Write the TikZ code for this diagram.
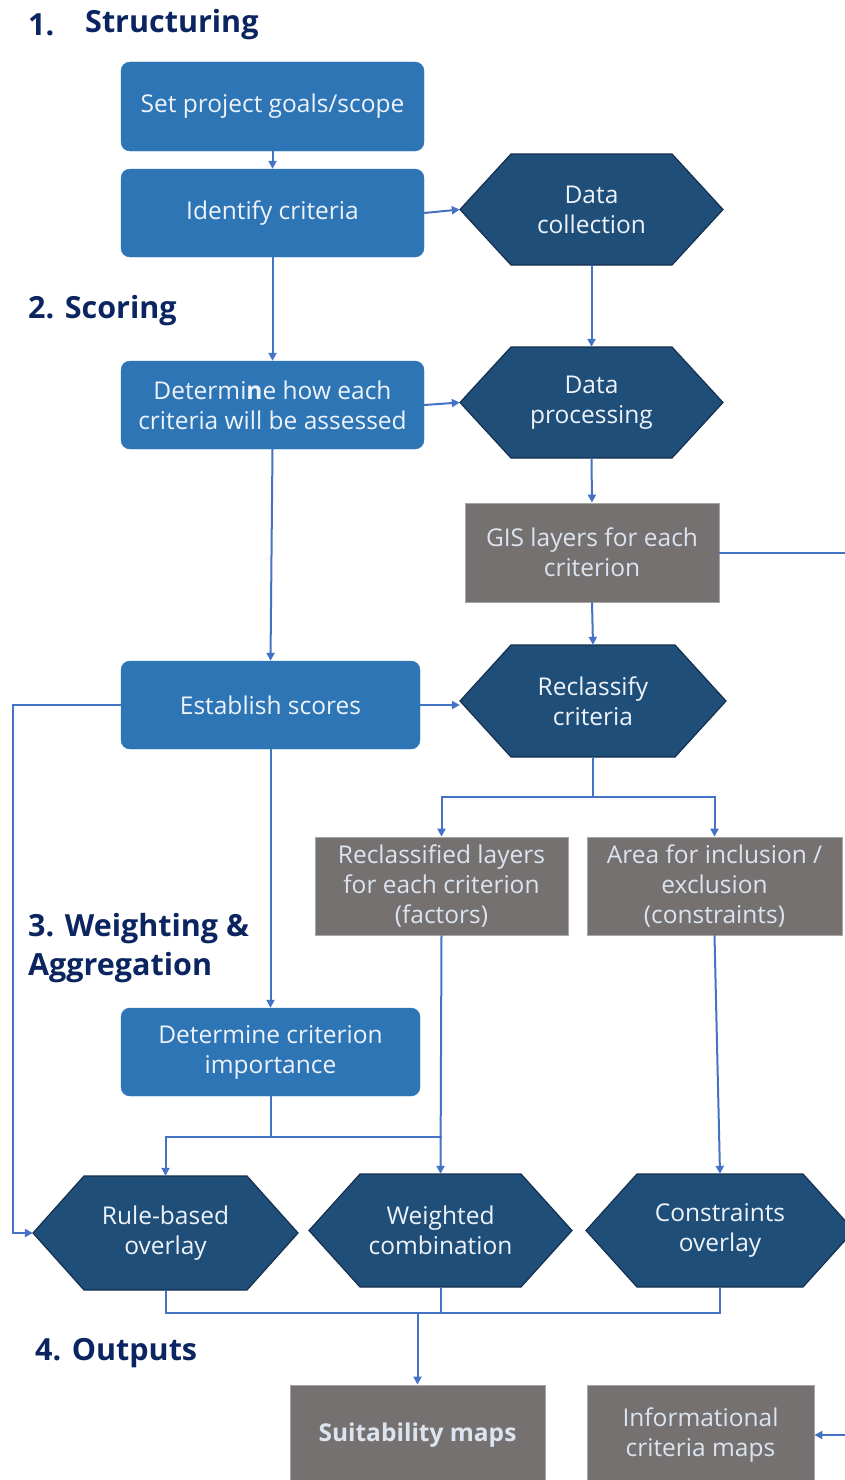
\documentclass[tikz,border=0pt]{standalone}
\usepackage{fontspec}
\setmainfont{Open Sans}
\usetikzlibrary{arrows.meta}

\definecolor{boxblue}{HTML}{2E75B6}
\definecolor{hexfill}{HTML}{1F4E79}
\definecolor{hexedge}{HTML}{15304F}
\definecolor{boxgray}{HTML}{767171}
\definecolor{grayedge}{HTML}{A6A6A6}
\definecolor{lineblue}{HTML}{4472C4}
\definecolor{titlenavy}{HTML}{0B2561}
\definecolor{lighttext}{HTML}{EEF3FA}
\definecolor{graytext}{HTML}{DCE4F0}

\tikzset{
  boxfont/.style={font=\fontsize{24.5}{30}\selectfont},
  bluebox/.style={boxfont, rectangle, rounded corners=9pt, fill=boxblue,
    draw=boxblue, text=lighttext, align=center, inner sep=0pt},
  graybox/.style={boxfont, rectangle, fill=boxgray, draw=grayedge,
    line width=0.8pt, text=graytext, align=center, inner sep=0pt},
  hexshape/.style={fill=hexfill, draw=hexedge, line width=1.2pt, line join=miter},
  hexlabel/.style={boxfont, rectangle, draw=none, text=lighttext,
    align=center, inner sep=0pt},
  heading/.style={font=\fontsize{30.5}{39}\selectfont\bfseries, text=titlenavy,
    anchor=west, inner sep=0pt, align=left},
  flow/.style={draw=lineblue, line width=2pt},
  flowarrow/.style={flow, -{Triangle[length=8pt,width=8pt]}},
}

% hexagon: name, centre x, centre y, width, height, text
\newcommand\hexbox[6]{%
  \draw[hexshape] ({#2-#4/2},#3) -- ({#2-#4/2+51},{#3-#5/2})
    -- ({#2+#4/2-51},{#3-#5/2}) -- ({#2+#4/2},#3)
    -- ({#2+#4/2-51},{#3+#5/2}) -- ({#2-#4/2+51},{#3+#5/2}) -- cycle;
  \node[hexlabel, minimum width=#4pt, minimum height=#5pt] (#1) at (#2,#3) {#6};
}

\begin{document}
\begin{tikzpicture}[x=1pt, y=-1pt]
\useasboundingbox (0,0) rectangle (844,1480);

% section headings
\node[heading] (h1a) at (28,25) {1.};
\node[heading] (h1b) at (85,25) {Structuring};
\node[heading] (h2) at (28,311) {2. Scoring};
\node[heading] (h3) at (28,948) {3. Weighting \&\\Aggregation};
\node[heading] (h4) at (35,1353) {4. Outputs};

% process boxes
\node[bluebox, minimum width=303pt, minimum height=89pt] (goals) at (272.5,106.5) {Set project goals/scope};
\node[bluebox, minimum width=303pt, minimum height=88pt] (ident) at (272.5,213) {Identify criteria};
\node[bluebox, minimum width=303pt, minimum height=88pt] (determ) at (272.5,405) {Determi\textbf{n}e how each\\criteria will be assessed};
\node[bluebox, minimum width=299pt, minimum height=88pt] (estab) at (270.5,705) {Establish scores};
\node[bluebox, minimum width=299pt, minimum height=88pt] (import) at (270.5,1052) {Determine criterion\\importance};

% operations
\hexbox{coll}{591.5}{209.5}{263}{111}{Data\\collection}
\hexbox{proc}{591.5}{402.5}{263}{111}{Data\\processing}
\hexbox{recl}{593}{701}{266}{112}{Reclassify\\criteria}
\hexbox{rule}{165.5}{1233}{265}{114}{Rule-based\\overlay}
\hexbox{wcomb}{440.5}{1230.5}{263}{113}{Weighted\\combination}
\hexbox{cons}{720}{1230.5}{268}{113}{Constraints\\overlay}

% data products
\node[graybox, minimum width=254pt, minimum height=99pt] (gis) at (592,552.5) {GIS layers for each\\criterion};
\node[graybox, minimum width=253pt, minimum height=98pt] (rlayers) at (441.5,886) {Reclassified layers\\for each criterion\\(factors)};
\node[graybox, minimum width=255pt, minimum height=98pt] (area) at (714.5,886) {Area for inclusion /\\exclusion\\(constraints)};
\node[graybox, minimum width=255pt, minimum height=100pt] (suit) at (417.5,1435) {\textbf{Suitability maps}};
\node[graybox, minimum width=227pt, minimum height=100pt] (info) at (700.5,1435) {Informational\\criteria maps};

% junction points
\coordinate (lrail) at (13,705);
\coordinate (split) at (593,797);
\coordinate (ij) at (270.5,1137);
\coordinate (ijr) at (441.5,1137);
\coordinate (oj) at (417.5,1313);
\coordinate (rr1) at (860,552.5);
\coordinate (rr2) at (860,1435);

% connectors
\draw[flowarrow] (goals.south) -- (ident.north);
\draw[flowarrow] (ident.east) -- (coll.west);
\draw[flowarrow] (ident.south) -- (determ.north);
\draw[flowarrow] (coll.south) -- (proc.north);
\draw[flowarrow] (determ.east) -- (proc.west);
\draw[flowarrow] (proc.south) -- (gis.north);
\draw[flowarrow] (gis.south) -- (recl.north);
\draw[flowarrow] (determ.south) -- (estab.north);
\draw[flowarrow] (estab.east) -- (estab.east -| recl.west);
\draw[flowarrow] (estab.west) -- (lrail) |- (rule.west);
\draw[flowarrow] (estab.south) -- (import.north);
\draw[flow] (recl.south) -- (split);
\draw[flowarrow] (split) -| (rlayers.north);
\draw[flowarrow] (split) -| (area.north);
\draw[flowarrow] (rlayers.south) -- (wcomb.north);
\draw[flowarrow] (area.south) -- (cons.north);
\draw[flow] (import.south) -- (ij) -- (ijr);
\draw[flowarrow] (ij) -| (rule.north);
\draw[flow] (rule.south) |- (oj);
\draw[flow] (cons.south) |- (oj);
\draw[flow] (wcomb.south) -- (wcomb.south |- oj);
\draw[flowarrow] (oj) -- (suit.north);
\draw[flowarrow] (gis.east) -- (rr1) -- (rr2) -- (info.east);
\end{tikzpicture}
\end{document}
